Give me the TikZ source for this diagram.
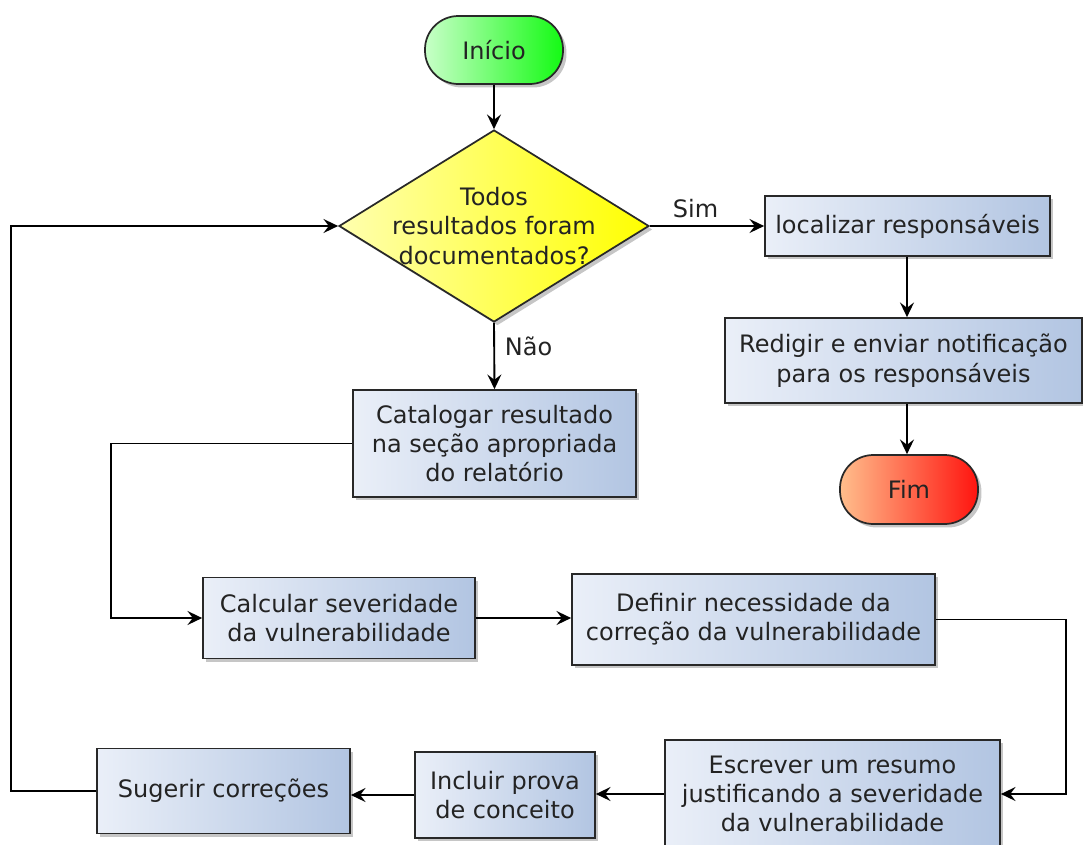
\documentclass[tikz,border=0pt]{standalone}
\usepackage{fontspec}
\setmainfont{DejaVu Sans}
\usetikzlibrary{arrows.meta,shapes.geometric,shadows}

\definecolor{boxL}{RGB}{234,239,248}
\definecolor{boxR}{RGB}{178,197,226}
\definecolor{startL}{RGB}{200,255,200}
\definecolor{startR}{RGB}{20,250,20}
\definecolor{endL}{RGB}{255,190,140}
\definecolor{endR}{RGB}{255,20,15}
\definecolor{decL}{RGB}{255,255,175}
\definecolor{decR}{RGB}{255,255,0}
\definecolor{edge}{RGB}{40,40,40}
\definecolor{ink}{RGB}{35,35,35}

\tikzset{
  base/.style={draw=edge, line width=1.3pt, text=ink, align=center, inner sep=2pt,
    font=\fontsize{18}{22}\selectfont,
    drop shadow={opacity=0.45, shadow xshift=2.6pt, shadow yshift=-2.6pt}},
  procbox/.style={base, rectangle, left color=boxL, right color=boxR},
  terminal/.style={base, rectangle, rounded corners=25pt},
  startbox/.style={terminal, left color=startL, right color=startR},
  endbox/.style={terminal, left color=endL, right color=endR},
  decision/.style={base, diamond, inner sep=0pt, left color=decL, right color=decR,
    minimum width=232.5pt, minimum height=144pt},
  flow/.style={line width=1.4pt, draw=black, -{Stealth[length=11pt,width=10.5pt,inset=4pt]}},
  tag/.style={text=ink, font=\fontsize{18}{22}\selectfont}
}

\begin{document}
\begin{tikzpicture}[x=0.75pt,y=-0.75pt]
  \useasboundingbox (0,0) rectangle (1083,844);

  % terminals and decision
  \node[startbox, minimum width=103.5pt, minimum height=51pt] (start) at (494,50) {Início};
  \node[decision] (q) at (494,226) {};
  \node[tag, align=center] (qtext) at (494,226) {Todos\\resultados foram\\documentados?};

  % right branch
  \node[procbox, minimum width=213.75pt, minimum height=45pt] (loc) at (907.5,226) {localizar responsáveis};
  \node[procbox, minimum width=267.75pt, minimum height=63.75pt] (red) at (903.5,360.5) {Redigir e enviar notificação\\para os responsáveis};
  \node[endbox, minimum width=103.5pt, minimum height=51.75pt] (fim) at (909,489.5) {Fim};

  % documentation loop
  \node[procbox, minimum width=212.25pt, minimum height=80.25pt] (cat) at (494.5,443.5) {Catalogar resultado\\na seção apropriada\\do relatório};
  \node[procbox, minimum width=204pt, minimum height=60.75pt] (calc) at (339,618) {Calcular severidade\\da vulnerabilidade};
  \node[procbox, minimum width=272.25pt, minimum height=68.25pt] (def) at (753.5,619.5) {Definir necessidade da\\correção da vulnerabilidade};
  \node[procbox, minimum width=251.25pt, minimum height=81pt] (esc) at (832.5,794) {Escrever um resumo\\justificando a severidade\\da vulnerabilidade};
  \node[procbox, minimum width=135pt, minimum height=64.5pt] (inc) at (505,795) {Incluir prova\\de conceito};
  \node[procbox, minimum width=189.75pt, minimum height=63.75pt] (sug) at (223.5,791) {Sugerir correções};

  % connectors
  \draw[flow] (start.south) -- (q.north);
  \draw[flow] (q.east) -- node[tag, above=2pt, pos=0.4] (sim) {Sim} (loc.west);
  \draw[flow] (loc.south -| 907,0) -- (red.north -| 907,0);
  \draw[flow] (red.south -| 907,0) -- (fim.north -| 907,0);
  \draw[flow] (q.south) -- node[tag, right=4pt, pos=0.35] (nao) {Não} (cat.north);
  \draw[flow] (cat.west) -- ++(-241,0) |- (calc.west);
  \draw[flow] (calc.east) -- (calc.east -| def.west);
  \draw[flow] (def.east) -- ++(130,0) |- (esc.east);
  \draw[flow] (esc.west) -- (esc.west -| inc.east);
  \draw[flow] (inc.west) -- (inc.west -| sug.east);
  \draw[flow] (sug.west) -- ++(-85,0) |- (q.west);
\end{tikzpicture}
\end{document}
